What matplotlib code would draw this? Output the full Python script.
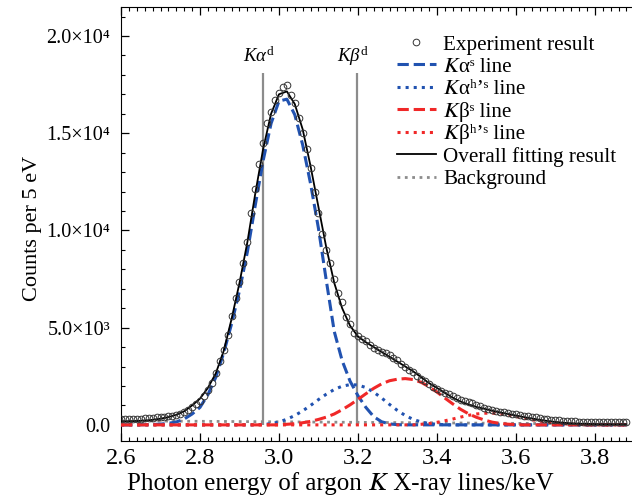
import numpy as np
import matplotlib
matplotlib.use("Agg")
import matplotlib.pyplot as plt

plt.rcParams['font.family'] = ['Liberation Serif', 'STIXGeneral', 'DejaVu Serif']
plt.rcParams['mathtext.fontset'] = 'custom'
plt.rcParams['mathtext.rm'] = 'Liberation Serif'
plt.rcParams['mathtext.it'] = 'Liberation Serif:italic'
plt.rcParams['mathtext.default'] = 'rm'

# ===== data =====
# measured spectrum, 10 eV grid 2.60 ... 3.88 keV
exp_energy = np.round(np.arange(2.60, 3.885, 0.01), 2)
exp_counts = [
    290, 300, 300, 310, 300, 320, 330, 340, 360, 380,
    400, 420, 440, 460, 500, 580, 680, 740, 900, 1050,
    1250, 1500, 1800, 2150, 2650, 3300, 3850, 4600, 5600, 6500,
    7350, 8300, 9400, 10900, 12150, 13400, 14500, 15500, 16100, 16700,
    17050, 17350, 17500, 16950, 16550, 15800, 15000, 14200, 13200, 12000,
    10900, 9800, 9000, 8300, 7500, 6800, 6300, 5550, 5200, 4750,
    4550, 4420, 4300, 4120, 3950, 3870, 3750, 3680, 3570, 3450,
    3340, 3150, 2990, 2820, 2700, 2520, 2380, 2250, 2100, 1970,
    1860, 1760, 1660, 1580, 1480, 1400, 1300, 1230, 1180, 1100,
    1040, 980, 880, 820, 770, 720, 680, 650, 610, 580,
    540, 510, 480, 440, 410, 380, 350, 320, 290, 270,
    250, 230, 210, 200, 190, 180, 170, 165, 160, 155,
    150, 145, 140, 140, 135, 130, 130, 125, 125,
]

# fitted components, 20 eV grid 2.60 ... 3.88 keV
fit_energy = np.round(np.arange(2.60, 3.885, 0.02), 2)
ka_s = [0, 0, 0, 10, 20, 40, 80, 150, 300, 560,
        900, 1550, 2450, 3700, 5200, 6900, 8900, 11300, 13600, 15500,
        16650, 16750, 15950, 14400, 12400, 10100, 7400, 4800, 3300, 2250,
        1500, 900, 420, 160, 50, 10] + [0] * 29
ka_hs = [0] * 18 + [20, 60, 150, 290, 480, 720, 1000, 1300, 1580, 1820,
                    1990, 2070, 2050, 1920, 1680, 1380, 1050, 740, 480, 280,
                    150, 70, 30, 10] + [0] * 23
kb_s = [0] * 21 + [30, 60, 110, 180, 280, 400, 560, 780, 1030, 1310,
                   1600, 1880, 2110, 2270, 2350, 2380, 2330, 2190, 1960, 1690,
                   1380, 1080, 800, 570, 390, 250, 140, 75, 35, 15] + [0] * 14
kb_hs = [0] * 38 + [30, 70, 130, 210, 300, 400, 490, 560, 600, 600,
                    570, 510, 430, 350, 270, 200, 140, 95, 60, 35,
                    20, 10] + [0] * 5
overall = [180, 190, 200, 220, 260, 320, 400, 520, 700, 1000,
           1350, 1900, 2650, 3800, 5450, 7300, 9400, 11900, 14200, 16000,
           17000, 17150, 16500, 15200, 13300, 11200, 9100, 7300, 6000, 5100,
           4550, 4250, 4000, 3750, 3500, 3250, 3000, 2750, 2450, 2150,
           1900, 1650, 1400, 1200, 1050, 920, 830, 730, 640, 560,
           480, 400, 330, 260, 200, 150, 110, 80, 60, 50,
           40, 30, 30, 30, 30]
bg_energy = [2.60, 3.88]
bg_counts = [210, 40]

# diagram lines
diag_energy = [2.960, 3.197]
diag_labels = [r'$\mathit{K\alpha}^{\mathrm{d}}$', r'$\mathit{K\beta}^{\mathrm{d}}$']
diag_top = 18100

yticks = [0, 5000, 10000, 15000, 20000]
ytick_labels = ['0.0', '5.0×10³', '1.0×10⁴', '1.5×10⁴', '2.0×10⁴']

# legend labels as plain text (italic K, superscripts from unicode)
lab_exp = 'Experiment result'
lab_ka_s = '\U0001D43Eα\u02E2 line'
lab_ka_hs = '\U0001D43Eα\u02B0\u02BC\u02E2 line'
lab_kb_s = '\U0001D43Eβ\u02E2 line'
lab_kb_hs = '\U0001D43Eβ\u02B0\u02BC\u02E2 line'
lab_fit = 'Overall fitting result'
lab_bg = 'Background'

blue = '#2152b0'
red = '#f02828'
grey = '#8c8c8c'

fig = plt.figure(figsize=(6.32, 4.99), dpi=100)
ax = fig.add_axes([0.1915, 0.1162, 0.8085, 0.8698])

# reference positions of the diagram lines
ax.vlines(diag_energy, 0, diag_top, color=grey, lw=1.6, zorder=1)
for e, lab in zip(diag_energy, diag_labels):
    ax.text(e - 0.01, 18950, lab, ha='center', va='center', fontsize=13.5)

ax.plot(exp_energy, exp_counts, 'o', mfc='none', mec='#333333', mew=0.7, ms=4.8,
        label=lab_exp, zorder=5)
ax.plot(fit_energy, ka_s, '--', color=blue, lw=2.2, label=lab_ka_s, zorder=3)
ax.plot(fit_energy, ka_hs, ':', color=blue, lw=2.2, label=lab_ka_hs, zorder=3)
ax.plot(fit_energy, kb_s, '--', color=red, lw=2.2, label=lab_kb_s, zorder=3)
ax.plot(fit_energy, kb_hs, ':', color=red, lw=2.2, label=lab_kb_hs, zorder=3)
ax.plot(fit_energy, overall, '-', color='black', lw=1.3, label=lab_fit, zorder=4)
ax.plot(bg_energy, bg_counts, ':', color=grey, lw=2.0, label=lab_bg, zorder=2)

# axes, ticks
ax.set_xlim(2.6, 3.894)
ax.set_ylim(-830, 21490)
ax.set_xticks([2.6, 2.8, 3.0, 3.2, 3.4, 3.6, 3.8])
ax.set_xticks(np.arange(2.6, 3.9, 0.02), minor=True)
ax.set_yticks(yticks)
ax.set_yticklabels(ytick_labels)
ax.set_yticks(np.arange(0, 21001, 1000), minor=True)
ax.tick_params(which='both', direction='in', top=True, right=False)
ax.tick_params(which='major', length=6, width=0.9)
ax.tick_params(which='minor', length=3, width=0.8)
ax.tick_params(axis='y', pad=8, labelsize=14.5)
ax.tick_params(axis='x', pad=5, labelsize=17.5)
ax.spines['right'].set_visible(False)

ax.set_xlabel('Photon energy of argon \U0001D43E X-ray lines/keV', fontsize=18, labelpad=2)
ax.xaxis.label.set_x(0.43)
ax.set_ylabel('Counts per 5 eV', fontsize=16)
ax.yaxis.set_label_coords(-0.155, 0.49)

ax.legend(loc='upper left', bbox_to_anchor=(0.54, 0.936), frameon=False,
          fontsize=15.2, handlelength=1.85, handletextpad=0.35,
          labelspacing=0.12, borderpad=0, borderaxespad=0)

fig.savefig('out.png', dpi=100)
